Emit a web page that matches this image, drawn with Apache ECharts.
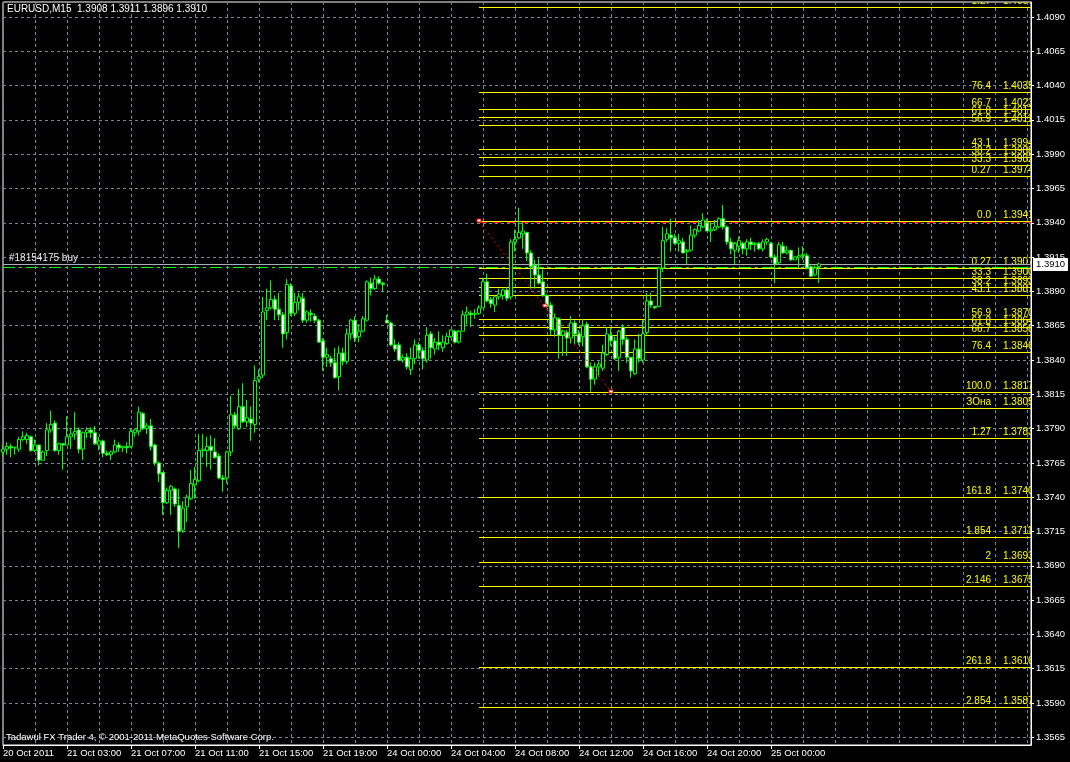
<!DOCTYPE html>
<html><head><meta charset="utf-8">
<script src="https://cdn.jsdelivr.net/npm/echarts@6/dist/echarts.min.js"></script>
<style>html,body{margin:0;padding:0;background:#000;}#c{width:1070px;height:762px;}</style>
</head><body><div id="c"></div>
<script>
const titleText = 'EURUSD,M15  1.3908 1.3911 1.3896 1.3910';
const copyrightText = 'Tadawul FX Trader 4, \u00a9 2001-2011 MetaQuotes Software Corp.';
const xTickLabels = ['20 Oct 2011','21 Oct 03:00','21 Oct 07:00','21 Oct 11:00','21 Oct 15:00','21 Oct 19:00',
  '24 Oct 00:00','24 Oct 04:00','24 Oct 08:00','24 Oct 12:00','24 Oct 16:00','24 Oct 20:00','25 Oct 00:00'];
const barsPerLabel = 16;
const slotCount = 258; // visible bar slots incl. empty chart shift on the right
const priceTicks = [1.3565,1.3590,1.3615,1.3640,1.3665,1.3690,1.3715,1.3740,1.3765,1.3790,1.3815,
  1.3840,1.3865,1.3890,1.3915,1.3940,1.3965,1.3990,1.4015,1.4040,1.4065,1.4090];

const opens = [1.3773,1.3775,1.3777,1.3776,1.3775,1.3782,1.3782,1.3784,1.3774,1.3778,1.3767,1.3774,1.3789,1.3794,1.3774,1.3779,1.3778,1.3784,1.3786,1.3789,
1.3775,1.3787,1.3789,1.3787,1.3778,1.3781,1.3772,1.3771,1.3773,1.3778,1.3776,1.3777,1.3777,1.3787,1.3788,1.3801,1.3790,1.3792,1.3778,1.3765,
1.3758,1.3736,1.3745,1.3746,1.3734,1.3716,1.3733,1.3739,1.3749,1.3752,1.3774,1.3774,1.3777,1.3773,1.3770,1.3754,1.3754,1.3773,1.3800,1.3790,
1.3806,1.3795,1.3797,1.3793,1.3826,1.3829,1.3876,1.3878,1.3884,1.3877,1.3873,1.3860,1.3894,1.3874,1.3882,1.3885,1.3869,1.3874,1.3872,1.3869,
1.3854,1.3842,1.3841,1.3838,1.3828,1.3845,1.3839,1.3859,1.3869,1.3857,1.3861,1.3869,1.3896,1.3892,1.3899,1.3896,1.3869,1.3867,1.3851,1.3851,
1.3840,1.3842,1.3833,1.3841,1.3851,1.3847,1.3840,1.3859,1.3848,1.3853,1.3849,1.3852,1.3857,1.3861,1.3853,1.3861,1.3873,1.3874,1.3873,1.3874,
1.3878,1.3897,1.3884,1.3880,1.3886,1.3887,1.3891,1.3886,1.3926,1.3929,1.3932,1.3933,1.3918,1.3909,1.3902,1.3897,1.3887,1.3880,1.3862,1.3870,
1.3858,1.3860,1.3856,1.3867,1.3859,1.3857,1.3866,1.3835,1.3826,1.3835,1.3834,1.3844,1.3858,1.3854,1.3842,1.3864,1.3855,1.3842,1.3830,1.3848,
1.3840,1.3860,1.3883,1.3879,1.3879,1.3907,1.3928,1.3931,1.3929,1.3925,1.3926,1.3919,1.3920,1.3931,1.3934,1.3937,1.3940,1.3934,1.3935,1.3937,
1.3943,1.3937,1.3926,1.3920,1.3923,1.3925,1.3921,1.3926,1.3924,1.3925,1.3921,1.3926,1.3925,1.3915,1.3911,1.3923,1.3918,1.3920,1.3913,1.3915,
1.3916,1.3916,1.3908,1.3902,1.3908];
const highs = [1.3778,1.3780,1.3779,1.3777,1.3784,1.3788,1.3787,1.3785,1.3782,1.3778,1.3774,1.3794,1.3803,1.3796,1.3780,1.3779,1.3799,1.3790,1.3802,1.3791,
1.3788,1.3791,1.3791,1.3792,1.3784,1.3782,1.3774,1.3774,1.3782,1.3780,1.3777,1.3780,1.3790,1.3790,1.3806,1.3802,1.3794,1.3797,1.3779,1.3766,
1.3758,1.3747,1.3749,1.3747,1.3746,1.3737,1.3742,1.3760,1.3762,1.3786,1.3786,1.3784,1.3785,1.3783,1.3772,1.3756,1.3774,1.3814,1.3802,1.3819,
1.3823,1.3811,1.3806,1.3836,1.3833,1.3886,1.3892,1.3898,1.3887,1.3889,1.3875,1.3899,1.3896,1.3889,1.3889,1.3889,1.3876,1.3877,1.3874,1.3870,
1.3856,1.3849,1.3843,1.3849,1.3850,1.3849,1.3863,1.3870,1.3872,1.3866,1.3872,1.3898,1.3900,1.3902,1.3901,1.3897,1.3873,1.3868,1.3855,1.3853,
1.3844,1.3845,1.3849,1.3855,1.3853,1.3849,1.3864,1.3861,1.3856,1.3861,1.3858,1.3860,1.3862,1.3862,1.3862,1.3876,1.3879,1.3876,1.3877,1.3880,
1.3900,1.3903,1.3886,1.3887,1.3892,1.3892,1.3893,1.3928,1.3935,1.3951,1.3940,1.3933,1.3920,1.3913,1.3914,1.3906,1.3888,1.3882,1.3874,1.3871,
1.3862,1.3862,1.3872,1.3869,1.3862,1.3870,1.3868,1.3838,1.3838,1.3839,1.3851,1.3864,1.3863,1.3857,1.3862,1.3866,1.3857,1.3842,1.3855,1.3859,
1.3869,1.3889,1.3889,1.3879,1.3908,1.3937,1.3936,1.3943,1.3932,1.3932,1.3929,1.3921,1.3938,1.3936,1.3942,1.3947,1.3943,1.3940,1.3942,1.3944,
1.3953,1.3938,1.3929,1.3926,1.3930,1.3926,1.3928,1.3929,1.3926,1.3926,1.3928,1.3929,1.3926,1.3917,1.3926,1.3926,1.3923,1.3920,1.3916,1.3922,
1.3923,1.3918,1.3909,1.3909,1.3911];
const lows = [1.3770,1.3771,1.3769,1.3771,1.3773,1.3781,1.3779,1.3773,1.3773,1.3763,1.3767,1.3770,1.3787,1.3773,1.3771,1.3760,1.3778,1.3775,1.3782,1.3772,
1.3767,1.3783,1.3783,1.3778,1.3774,1.3769,1.3770,1.3767,1.3772,1.3773,1.3773,1.3772,1.3776,1.3784,1.3785,1.3789,1.3786,1.3774,1.3763,1.3751,
1.3727,1.3735,1.3727,1.3733,1.3703,1.3714,1.3722,1.3738,1.3739,1.3751,1.3769,1.3762,1.3760,1.3768,1.3753,1.3744,1.3750,1.3770,1.3790,1.3789,
1.3794,1.3791,1.3781,1.3787,1.3824,1.3827,1.3869,1.3877,1.3869,1.3869,1.3849,1.3855,1.3872,1.3872,1.3876,1.3867,1.3867,1.3868,1.3867,1.3853,
1.3832,1.3835,1.3835,1.3827,1.3818,1.3836,1.3837,1.3855,1.3853,1.3853,1.3860,1.3868,1.3887,1.3891,1.3895,1.3890,1.3867,1.3850,1.3846,1.3839,
1.3838,1.3833,1.3829,1.3837,1.3841,1.3833,1.3838,1.3841,1.3844,1.3847,1.3846,1.3851,1.3856,1.3852,1.3852,1.3861,1.3866,1.3864,1.3870,1.3873,
1.3878,1.3882,1.3878,1.3875,1.3884,1.3884,1.3883,1.3884,1.3919,1.3928,1.3921,1.3912,1.3892,1.3892,1.3895,1.3886,1.3878,1.3858,1.3857,1.3841,
1.3843,1.3843,1.3852,1.3851,1.3851,1.3850,1.3834,1.3817,1.3822,1.3828,1.3832,1.3843,1.3850,1.3840,1.3832,1.3851,1.3838,1.3827,1.3829,1.3838,
1.3838,1.3858,1.3878,1.3877,1.3879,1.3904,1.3926,1.3919,1.3924,1.3919,1.3918,1.3910,1.3919,1.3929,1.3933,1.3936,1.3934,1.3926,1.3934,1.3936,
1.3935,1.3924,1.3917,1.3910,1.3918,1.3917,1.3916,1.3920,1.3919,1.3920,1.3919,1.3924,1.3914,1.3896,1.3910,1.3918,1.3917,1.3912,1.3913,1.3907,
1.3913,1.3906,1.3901,1.3901,1.3896];
const closes = [1.3775,1.3777,1.3776,1.3776,1.3782,1.3784,1.3785,1.3774,1.3778,1.3767,1.3773,1.3789,1.3793,1.3774,1.3779,1.3778,1.3784,1.3786,1.3788,1.3775,
1.3787,1.3789,1.3787,1.3779,1.3781,1.3772,1.3771,1.3773,1.3778,1.3776,1.3777,1.3776,1.3788,1.3789,1.3802,1.3790,1.3792,1.3777,1.3765,1.3757,
1.3736,1.3745,1.3748,1.3735,1.3715,1.3732,1.3740,1.3750,1.3753,1.3774,1.3775,1.3777,1.3774,1.3769,1.3754,1.3753,1.3773,1.3800,1.3792,1.3806,
1.3795,1.3798,1.3794,1.3825,1.3828,1.3875,1.3878,1.3884,1.3877,1.3873,1.3859,1.3895,1.3874,1.3882,1.3886,1.3869,1.3875,1.3873,1.3869,1.3853,
1.3842,1.3844,1.3838,1.3827,1.3845,1.3839,1.3859,1.3869,1.3856,1.3861,1.3870,1.3897,1.3892,1.3899,1.3896,1.3895,1.3867,1.3851,1.3848,1.3840,
1.3842,1.3835,1.3841,1.3851,1.3847,1.3841,1.3858,1.3849,1.3853,1.3851,1.3853,1.3857,1.3862,1.3853,1.3861,1.3873,1.3875,1.3873,1.3874,1.3878,
1.3897,1.3883,1.3881,1.3886,1.3888,1.3891,1.3885,1.3926,1.3928,1.3933,1.3934,1.3918,1.3908,1.3902,1.3896,1.3887,1.3879,1.3862,1.3871,1.3858,
1.3861,1.3856,1.3867,1.3859,1.3853,1.3865,1.3835,1.3826,1.3835,1.3837,1.3845,1.3859,1.3854,1.3841,1.3861,1.3855,1.3842,1.3832,1.3848,1.3841,
1.3859,1.3883,1.3880,1.3878,1.3907,1.3927,1.3932,1.3929,1.3925,1.3927,1.3918,1.3920,1.3931,1.3935,1.3938,1.3942,1.3934,1.3935,1.3937,1.3943,
1.3937,1.3926,1.3921,1.3925,1.3927,1.3921,1.3926,1.3924,1.3925,1.3921,1.3926,1.3928,1.3915,1.3910,1.3924,1.3918,1.3920,1.3913,1.3915,1.3916,
1.3917,1.3907,1.3901,1.3907,1.3910];

// Fibonacci levels (text shown / price)
const fibTexts = ['1.27','76.4','66.7','61.8','56.9','43.1','38.2','33.3','0.27','0.0','0.27','33.3','38.2','43.1','56.9','61.8','66.7','76.4','100.0','\u0417\u041e\u043d\u0430','1.27','161.8','1.854','2','2.146','261.8','2.854'];
const fibPrices = [1.4097,1.4035,1.4023,1.4017,1.4011,1.3994,1.3988,1.3982,1.3974,1.3941,1.3907,1.3900,1.3893,1.3887,1.3870,1.3864,1.3858,1.3846,1.3817,1.3805,1.3783,1.3740,1.3711,1.3693,1.3675,1.3616,1.3587];
const fibStartBar = 119;
const trendBars = [119, 152];
const trendPrices = [1.3941, 1.3817];
const bidPrice = 1.3910;
const orderPrice = 1.3908;
const orderLabel = '#18154175 buy';

const FONT = '"Liberation Sans", Arial, sans-serif';
const slots = Array.from({length: slotCount}, (_, i) => String(i));
const candleData = opens.map((o, i) => [o, closes[i], lows[i], highs[i]]);
const isLabelIdx = (i) => i % barsPerLabel === 0 && i / barsPerLabel < xTickLabels.length;

const chart = echarts.init(document.getElementById('c'), null, {renderer: 'canvas'});
chart.setOption({
  animation: false,
  backgroundColor: '#000',
  graphic: [
    {type: 'text', left: 7, top: 4, z: 100, style: {text: titleText, fill: '#ffffff', font: '10px ' + FONT}},
    {type: 'text', left: 6, top: 732, z: 100, style: {text: copyrightText, fill: '#ffffff', font: '9.5px ' + FONT}}
  ],
  grid: {left: 3, right: 39, top: 2, bottom: 17, show: true, borderColor: '#ffffff', borderWidth: 1, backgroundColor: '#000'},
  xAxis: {
    type: 'category', data: slots, boundaryGap: false,
    axisLine: {show: true, lineStyle: {color: '#ffffff', width: 1}},
    axisTick: {show: true, interval: (i) => isLabelIdx(i), length: 4, lineStyle: {color: '#ffffff'}},
    axisLabel: {interval: (i) => isLabelIdx(i), formatter: (v, i) => xTickLabels[i / barsPerLabel],
      align: 'left', color: '#ffffff', fontSize: 9.5, fontFamily: FONT, margin: 3},
    splitLine: {show: true, interval: 7, lineStyle: {color: '#778899', type: [3, 3], width: 1}}
  },
  yAxis: {
    type: 'value', position: 'right', min: 1.35594, max: 1.41009,
    axisLine: {show: true, lineStyle: {color: '#ffffff', width: 1}},
    axisTick: {show: true, customValues: priceTicks, length: 3, lineStyle: {color: '#ffffff'}},
    axisLabel: {customValues: priceTicks, formatter: (v) => v.toFixed(4), color: '#ffffff', fontSize: 9.5, fontFamily: FONT, margin: 5},
    splitLine: {show: true, lineStyle: {color: '#778899', type: [3, 3], width: 1}}
  },
  series: [
    {
      type: 'custom', name: 'fib', clip: true, z: 3,
      data: fibPrices.map((p, i) => [fibStartBar, p, i]),
      encode: {x: 0, y: 1},
      renderItem: function (params, api) {
        const cs = params.coordSys;
        const p = api.coord([api.value(0), api.value(1)]);
        const i = api.value(2);
        const right = cs.x + cs.width;
        const y = Math.round(p[1]) + 0.5;
        const kids = [];
        if (Math.abs(fibPrices[i] - trendPrices[0]) < 1e-6) {
          kids.push({type: 'line', shape: {x1: p[0], y1: y + 1, x2: right, y2: y + 1},
            style: {stroke: '#ff0000', lineWidth: 1, lineDash: [8, 6]}});
        }
        kids.push({type: 'line', shape: {x1: p[0], y1: y, x2: right, y2: y}, style: {stroke: '#ffff00', lineWidth: 1}});
        kids.push({type: 'text', x: right - 40, y: y - 1,
          style: {text: fibTexts[i], fill: '#ffff00', font: '10px ' + FONT, align: 'right', verticalAlign: 'bottom'}});
        kids.push({type: 'text', x: right - 28, y: y - 1,
          style: {text: fibPrices[i].toFixed(4), fill: '#ffff00', font: '10px ' + FONT, align: 'left', verticalAlign: 'bottom'}});
        return {type: 'group', children: kids};
      }
    },
    {
      type: 'custom', name: 'orderBid', clip: false, z: 4,
      data: [[0, bidPrice]],
      encode: {x: 0, y: 1},
      renderItem: function (params, api) {
        const cs = params.coordSys;
        const right = cs.x + cs.width;
        const yb = Math.round(api.coord([0, bidPrice])[1]) + 0.5;
        const yo = Math.round(api.coord([0, orderPrice])[1]) + 0.5;
        return {type: 'group', children: [
          {type: 'line', shape: {x1: cs.x, y1: yb, x2: right, y2: yb}, style: {stroke: '#a8b0b8', lineWidth: 1}},
          {type: 'line', shape: {x1: cs.x, y1: yo, x2: right, y2: yo}, style: {stroke: '#00ff00', lineWidth: 1, lineDash: [12, 4, 3, 4]}},
          {type: 'text', x: cs.x + 6, y: yb - 1, style: {text: orderLabel, fill: '#e8e8e8', font: '10px ' + FONT, align: 'left', verticalAlign: 'bottom'}},
          {type: 'rect', shape: {x: right + 2, y: yb - 6.5, width: 35, height: 13}, style: {fill: '#ffffff'}},
          {type: 'text', x: right + 5, y: yb, style: {text: bidPrice.toFixed(4), fill: '#000000', font: '9.5px ' + FONT, align: 'left', verticalAlign: 'middle'}}
        ]};
      }
    },
    {
      type: 'candlestick', name: 'EURUSD', data: candleData, barWidth: 3, z: 5,
      itemStyle: {color: '#000000', color0: '#ffffff', borderColor: '#00ff00', borderColor0: '#00ff00', borderWidth: 1}
    },
    {
      type: 'custom', name: 'fibTrend', clip: true, z: 6,
      data: [[trendBars[0], trendPrices[0]]],
      encode: {x: 0, y: 1},
      renderItem: function (params, api) {
        const a = api.coord([trendBars[0], trendPrices[0]]);
        const b = api.coord([trendBars[1], trendPrices[1]]);
        const m = [(a[0] + b[0]) / 2, (a[1] + b[1]) / 2];
        const box = (pt) => ({type: 'rect', shape: {x: Math.round(pt[0]) - 2, y: Math.round(pt[1]) - 2, width: 4, height: 3},
          style: {fill: '#ffffff', stroke: '#ff0000', lineWidth: 1}});
        return {type: 'group', children: [
          {type: 'line', shape: {x1: a[0], y1: a[1], x2: b[0], y2: b[1]}, style: {stroke: '#ff0000', lineWidth: 1, lineDash: [2, 3]}},
          box(a), box(m), box(b)
        ]};
      }
    }
  ]
});
</script>
</body></html>
